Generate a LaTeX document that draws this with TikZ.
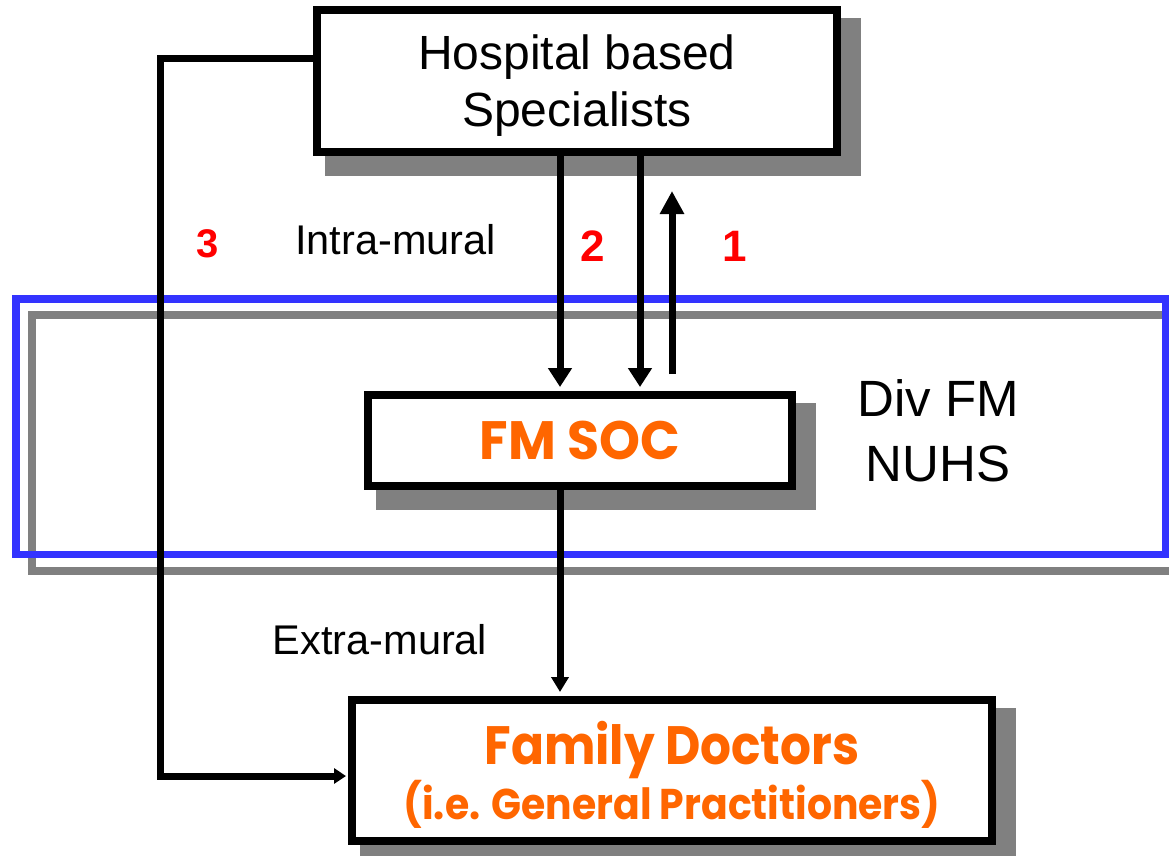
\documentclass[tikz,border=0pt]{standalone}
\usepackage{fontspec}
\setmainfont{Liberation Sans}
\newfontfamily\gothicA{Poppins}[FakeStretch=0.965]
\newfontfamily\gothicB{Poppins}[FakeStretch=0.9]
\newfontfamily\gothicC{Poppins}[FakeStretch=0.915]
\usetikzlibrary{arrows.meta,calc}
\definecolor{boxblue}{HTML}{3333FF}
\definecolor{shgray}{HTML}{808080}
\definecolor{fmorange}{HTML}{FF6600}
\pgfdeclarelayer{bg}
\pgfsetlayers{bg,main}
\begin{document}
\begin{tikzpicture}[x=1pt,y=-1pt,
  box/.style={draw=black,line width=8pt,fill=white,inner sep=0pt,align=center},
  conn/.style={line width=7pt},
  num/.style={text=red,font=\bfseries\fontsize{44}{44}\selectfont,anchor=base},
  lbl/.style={font=\fontsize{41.5}{41.5}\selectfont,anchor=base},
  ]
\useasboundingbox (0,0) rectangle (1169,856);

% Div FM region with its shadow
\draw[shgray,line width=8pt] (32,315) rectangle (1182,571);
\draw[boxblue,line width=7.5pt] (16,299) rectangle (1166,554.5);

% boxes
\node[box,minimum width=520pt,minimum height=142pt,text depth=0pt,
      font=\fontsize{48}{57}\selectfont] (hosp) at (577,81) {Hospital based\\Specialists};
\node[box,minimum width=424pt,minimum height=90.5pt,text=fmorange,
      font=\gothicA\bfseries\fontsize{54}{54}\selectfont] (fmsoc) at (580,440.25) {FM SOC};
\node[box,minimum width=640pt,minimum height=141pt,text depth=0pt,text=fmorange,
      font=\gothicC\bfseries\fontsize{43}{53}\selectfont] (family) at (672,770.5)
      {{\gothicB\bfseries\fontsize{54}{53}\selectfont Family Doctors}\\(i.e. General Practitioners)};

% box shadows
\begin{pgfonlayer}{bg}
\foreach \n in {hosp,fmsoc,family}
  \fill[shgray] ($(\n.north west)+(12,12)$) rectangle ($(\n.south east)+(20,20)$);
\end{pgfonlayer}

% connector guides
\coordinate (x2a) at (560,0);
\coordinate (x2b) at (640,0);
\coordinate (x1) at (672,0);
\coordinate (l3a) at (160,59);
\coordinate (l3b) at (160,776);

% connectors
\draw[conn,-{Triangle[width=23pt,length=19pt]},shorten >=4pt] (hosp.south -| x2a) -- (fmsoc.north -| x2a);
\draw[conn,-{Triangle[width=23pt,length=19pt]},shorten >=4pt] (hosp.south -| x2b) -- (fmsoc.north -| x2b);
\draw[conn,-{Triangle[width=23pt,length=23pt]},shorten <=17pt,shorten >=35pt] (fmsoc.north -| x1) -- (hosp.south -| x1);
\draw[conn,-{Triangle[width=17pt,length=15pt]},shorten >=4pt] (fmsoc.south -| x2a) -- (family.north -| x2a);
\draw[conn,-{Triangle[width=15pt,length=12pt]},shorten >=2pt] (hosp.west |- l3a) -- (l3a) -- (l3b) -- (family.west |- l3b);

% labels
\node[num,font=\bfseries\fontsize{40}{40}\selectfont] (n3) at (208,257) {3};
\node[num] (n2) at (593,261) {2};
\node[num] (n1) at (735,261) {1};
\node[lbl] (intra) at (395.5,254) {Intra-mural};
\node[lbl] (extra) at (380,654) {Extra-mural};
\node[font=\fontsize{51}{65}\selectfont,align=center,text depth=0pt] (div) at (938,431) {Div FM\\NUHS};
\end{tikzpicture}
\end{document}
